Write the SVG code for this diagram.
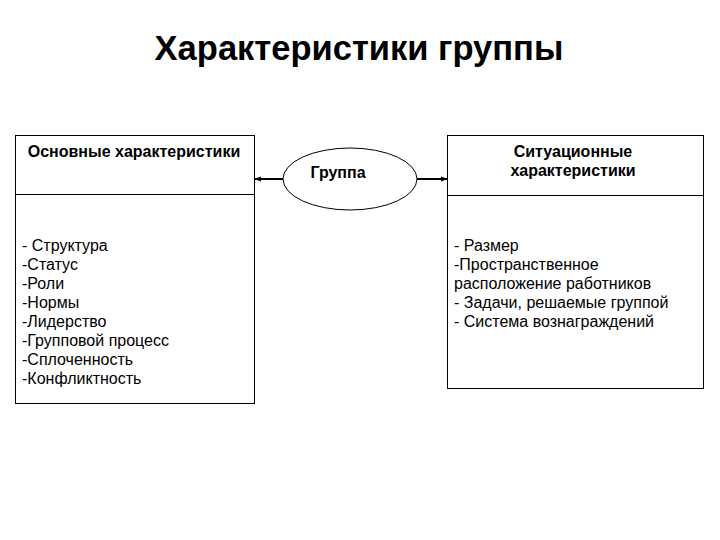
<svg xmlns="http://www.w3.org/2000/svg" width="720" height="540" viewBox="0 0 720 540">
<defs>
<style>
text{font-family:"Liberation Sans",Arial,sans-serif;fill:#000}
.title{font-size:34.5px;font-weight:bold}
.hd{font-size:16px;font-weight:bold}
.li{font-size:16px}
.box{fill:#fff;stroke:#000;stroke-width:1}
.conn{stroke:#000;stroke-width:2;fill:none}
</style>
<marker id="ah" markerWidth="7" markerHeight="6" refX="6" refY="3" orient="auto" markerUnits="userSpaceOnUse">
<path d="M0,0.5 L7,3 L0,5.5 Z" fill="#000"/>
</marker>
</defs>
<rect width="720" height="540" fill="#fff"/>
<text class="title" x="359" y="60" text-anchor="middle">Характеристики группы</text>
<g id="basic">
<rect class="box" x="15.5" y="135.5" width="239" height="268"/>
<line x1="15.5" y1="194.5" x2="254.5" y2="194.5" stroke="#000"/>
<text class="hd" x="134" y="157" text-anchor="middle">Основные характеристики</text>
<text class="li" x="22" y="251">- Структура</text>
<text class="li" x="22" y="270">-Статус</text>
<text class="li" x="22" y="289">-Роли</text>
<text class="li" x="22" y="308">-Нормы</text>
<text class="li" x="22" y="327">-Лидерство</text>
<text class="li" x="22" y="346">-Групповой процесс</text>
<text class="li" x="22" y="365">-Сплоченность</text>
<text class="li" x="22" y="384">-Конфликтность</text>
</g>
<g id="group">
<ellipse cx="350" cy="179" rx="67" ry="31" fill="#fff" stroke="#000"/>
<text class="hd" x="338" y="178" text-anchor="middle">Группа</text>
</g>
<g id="situational">
<rect class="box" x="447.5" y="135.5" width="256" height="253"/>
<line x1="447.5" y1="195.5" x2="703.5" y2="195.5" stroke="#000"/>
<text class="hd" x="573" y="157" text-anchor="middle">Ситуационные</text>
<text class="hd" x="573" y="176" text-anchor="middle">характеристики</text>
<text class="li" x="454" y="251">- Размер</text>
<text class="li" x="454" y="270">-Пространственное</text>
<text class="li" x="454" y="289">расположение работников</text>
<text class="li" x="454" y="308">- Задачи, решаемые группой</text>
<text class="li" x="454" y="327">- Система вознаграждений</text>
</g>
<g id="connectors">
<line class="conn" x1="283" y1="179" x2="255" y2="179" marker-end="url(#ah)"/>
<line class="conn" x1="417" y1="179" x2="447" y2="179" marker-end="url(#ah)"/>
</g>
</svg>
